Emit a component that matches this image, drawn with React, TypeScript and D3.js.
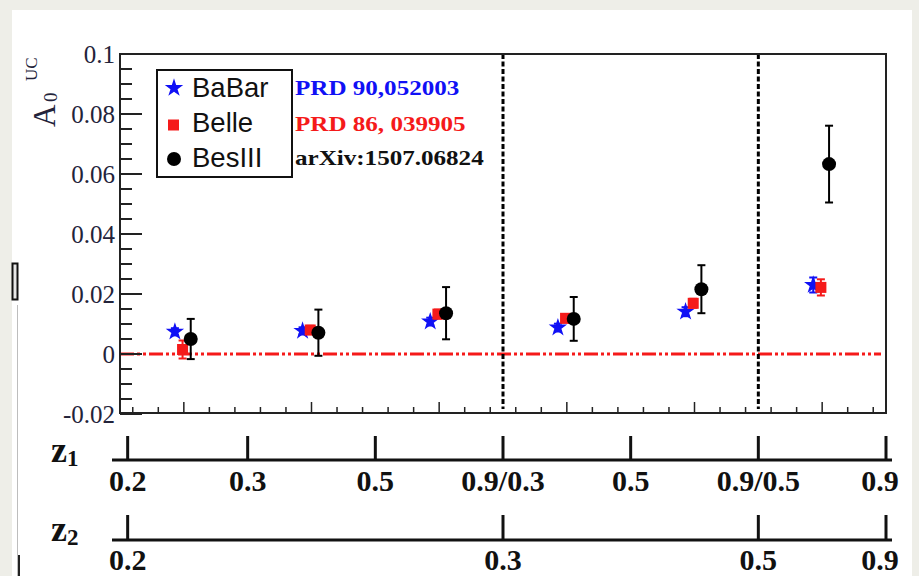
import React from "react";
import * as d3 from "d3";

// Bin centres (frame units) for the six (z1, z2) bins
const bins = [2.5, 7.5, 12.5, 17.5, 22.5, 27.5];

// A0^UC per experiment
const babar = [0.0074, 0.0077, 0.0108, 0.0088, 0.0141, 0.023];
const babarErr = [0.0012, 0.0012, 0.0013, 0.0013, 0.0015, 0.0025];
const belle = [0.0015, 0.008, 0.0133, 0.0119, 0.0169, 0.0222];
const belleErr = [0.003, 0.0014, 0.0015, 0.0014, 0.0015, 0.0027];
const besiii = [0.005, 0.0071, 0.0136, 0.0117, 0.0216, 0.0633];
const besiiiErr = [0.0067, 0.0077, 0.0087, 0.0073, 0.008, 0.0128];

// Horizontal shift of each experiment within a bin (frame units)
const shiftBabar = -0.35;
const shiftBelle = -0.05;
const shiftBesiii = 0.27;

// Y axis ticks
const yMajor = [-0.02, 0, 0.02, 0.04, 0.06, 0.08, 0.1];
const yMajorLabels = ["-0.02", "0", "0.02", "0.04", "0.06", "0.08", "0.1"];

// z1 / z2 bin-edge axes (positions in frame units)
const z1Pos = [0.3, 5, 10, 15, 20, 25, 30];
const z1Labels = ["0.2", "0.3", "0.5", "0.9/0.3", "0.5", "0.9/0.5", "0.9"];
const z2Pos = [0.3, 15, 25, 30];
const z2Labels = ["0.2", "0.3", "0.5", "0.9"];
const regionEdges = [15, 25];

const legendNames = ["BaBar", "Belle", "BesIII"];
const refNames = ["PRD 90,052003", "PRD 86, 039905", "arXiv:1507.06824"];

const BLUE = "#1010f5";
const RED = "#f51a1a";
const INK = "#111";

export default function App() {
  const W = 919;
  const H = 576;
  const left = 120;
  const right = 886;
  const top = 54;
  const bottom = 414;

  const x = d3.scaleLinear().domain([0, 30]).range([left, right]);
  const y = d3.scaleLinear().domain([-0.02, 0.1]).range([bottom, top]);

  const starPath = d3.symbol().type(d3.symbolStar).size(105)() as string;

  const yMinor = d3.range(-0.02, 0.1001, 0.005);
  const xTicks = d3.range(0, 30).map((k) => k + 0.5);

  const serif = "'Liberation Serif', 'Times New Roman', serif";
  const sans = "'Liberation Sans', Arial, sans-serif";

  const errBar = (cx: number, v: number, e: number, color: string, key: string) => (
    <g key={key} stroke={color} strokeWidth={2}>
      <line x1={cx} x2={cx} y1={y(v - e)} y2={y(v + e)} />
      <line x1={cx - 4} x2={cx + 4} y1={y(v - e)} y2={y(v - e)} />
      <line x1={cx - 4} x2={cx + 4} y1={y(v + e)} y2={y(v + e)} />
    </g>
  );

  const frameBottom = 413;

  return (
    <svg
      width={W}
      height={H}
      style={{ position: "absolute", left: 0, top: 0, display: "block" }}
    >
      <rect x={0} y={0} width={W} height={H} fill="#eeeee8" />
      <rect x={12} y={10} width={900} height={H - 10} fill="#ffffff" />

      {/* small marks along the left edge */}
      <rect x={12.5} y={263.5} width={5} height={36} fill="#e6e6e6" stroke="#111" strokeWidth={2} />
      <line x1={17.5} x2={17.5} y1={305} y2={H} stroke="#bdbdbd" strokeWidth={1} />
      <line x1={19} x2={19} y1={555} y2={H} stroke="#222" strokeWidth={2} />

      {/* zero reference line */}
      <line
        x1={left}
        x2={881}
        y1={y(0)}
        y2={y(0)}
        stroke={RED}
        strokeWidth={3}
        strokeDasharray="14,3,3,3,3,3"
      />

      {/* region separators */}
      {regionEdges.map((r) => (
        <line
          key={r}
          x1={x(r)}
          x2={x(r)}
          y1={top}
          y2={frameBottom - 4}
          stroke="#000"
          strokeWidth={3}
          strokeDasharray="5,2.5"
        />
      ))}

      {/* frame */}
      <rect x={left} y={top} width={right - left} height={frameBottom - top} fill="none" stroke="#222" strokeWidth={2} />

      {/* y ticks */}
      {yMinor.map((v, i) => {
        const major = i % 4 === 0;
        return (
          <line
            key={"ym" + i}
            x1={left}
            x2={left + (major ? 22 : 12)}
            y1={y(v)}
            y2={y(v)}
            stroke="#222"
            strokeWidth={2}
          />
        );
      })}
      {yMajor.map((v, i) => (
        <text
          key={"yl" + i}
          x={115}
          y={y(v)}
          dy="0.35em"
          textAnchor="end"
          fontFamily={serif}
          fontSize={25}
          fill="#23233a"
        >
          {yMajorLabels[i]}
        </text>
      ))}

      {/* x ticks */}
      {xTicks.map((t, i) => {
        const major = i % 5 === 2;
        return (
          <line
            key={"xt" + i}
            x1={x(t)}
            x2={x(t)}
            y1={frameBottom}
            y2={frameBottom - (major ? 11 : 6)}
            stroke="#222"
            strokeWidth={1.5}
          />
        );
      })}

      {/* y title */}
      <text transform="translate(55,127) rotate(-90)" fontFamily={serif} fontSize={31} fill="#23233a">
        A
      </text>
      <text transform="translate(57,102) rotate(-90)" fontFamily={serif} fontSize={19} fill="#23233a">
        0
      </text>
      <text transform="translate(37,81) rotate(-90)" fontFamily={serif} fontSize={17} fill="#23233a">
        UC
      </text>

      {/* data: BaBar */}
      {bins.map((b, i) => errBar(x(b + shiftBabar), babar[i], babarErr[i], BLUE, "be" + i))}
      {bins.map((b, i) => (
        <path key={"bs" + i} d={starPath} transform={`translate(${x(b + shiftBabar)},${y(babar[i])})`} fill={BLUE} />
      ))}

      {/* data: Belle */}
      {bins.map((b, i) => errBar(x(b + shiftBelle), belle[i], belleErr[i], RED, "le" + i))}
      {bins.map((b, i) => (
        <rect
          key={"ls" + i}
          x={x(b + shiftBelle) - 5.5}
          y={y(belle[i]) - 5.5}
          width={11}
          height={11}
          fill={RED}
        />
      ))}

      {/* data: BesIII */}
      {bins.map((b, i) => errBar(x(b + shiftBesiii), besiii[i], besiiiErr[i], "#000", "se" + i))}
      {bins.map((b, i) => (
        <circle key={"sc" + i} cx={x(b + shiftBesiii)} cy={y(besiii[i])} r={7} fill="#000" />
      ))}

      {/* legend */}
      <rect x={157} y={70} width={135} height={107} fill="#fff" stroke="#111" strokeWidth={2} />
      <path d={starPath} transform="translate(174,88)" fill={BLUE} />
      <rect x={168} y={119.5} width={11} height={11} fill={RED} />
      <circle cx={174} cy={159} r={7} fill="#000" />
      {legendNames.map((n, i) => (
        <text key={n} x={192} y={97 + i * 35} fontFamily={sans} fontSize={27.5} fill={INK}>
          {n}
        </text>
      ))}

      {/* references */}
      {refNames.map((n, i) => (
        <text
          key={n}
          transform={`translate(295,${[95, 131, 165][i]}) scale(1.14,1)`}
          fontFamily={serif}
          fontWeight="bold"
          fontSize={22}
          fill={[BLUE, RED, "#111"][i]}
        >
          {n}
        </text>
      ))}

      {/* z1 axis */}
      <line x1={112} x2={892} y1={460} y2={460} stroke="#111" strokeWidth={3} />
      {z1Pos.map((p, i) => (
        <g key={"z1" + i}>
          <line x1={x(p)} x2={x(p)} y1={460} y2={436} stroke="#111" strokeWidth={3} />
          <text
            x={x(p) - (i === z1Pos.length - 1 ? 6 : 0)}
            y={491}
            textAnchor="middle"
            fontFamily={serif}
            fontWeight="bold"
            fontSize={30}
            fill={INK}
          >
            {z1Labels[i]}
          </text>
        </g>
      ))}
      <text x={51} y={462} fontFamily={serif} fontWeight="bold" fontSize={36} fill={INK}>
        z
      </text>
      <text x={67} y={466} fontFamily={serif} fontWeight="bold" fontSize={23} fill={INK}>
        1
      </text>

      {/* z2 axis */}
      <line x1={112} x2={892} y1={540} y2={540} stroke="#111" strokeWidth={3} />
      {z2Pos.map((p, i) => (
        <g key={"z2" + i}>
          <line x1={x(p)} x2={x(p)} y1={540} y2={515} stroke="#111" strokeWidth={3} />
          <text
            x={x(p) - (i === z2Pos.length - 1 ? 6 : 0)}
            y={570}
            textAnchor="middle"
            fontFamily={serif}
            fontWeight="bold"
            fontSize={30}
            fill={INK}
          >
            {z2Labels[i]}
          </text>
        </g>
      ))}
      <text x={51} y={541} fontFamily={serif} fontWeight="bold" fontSize={36} fill={INK}>
        z
      </text>
      <text x={67} y={545} fontFamily={serif} fontWeight="bold" fontSize={23} fill={INK}>
        2
      </text>
    </svg>
  );
}
